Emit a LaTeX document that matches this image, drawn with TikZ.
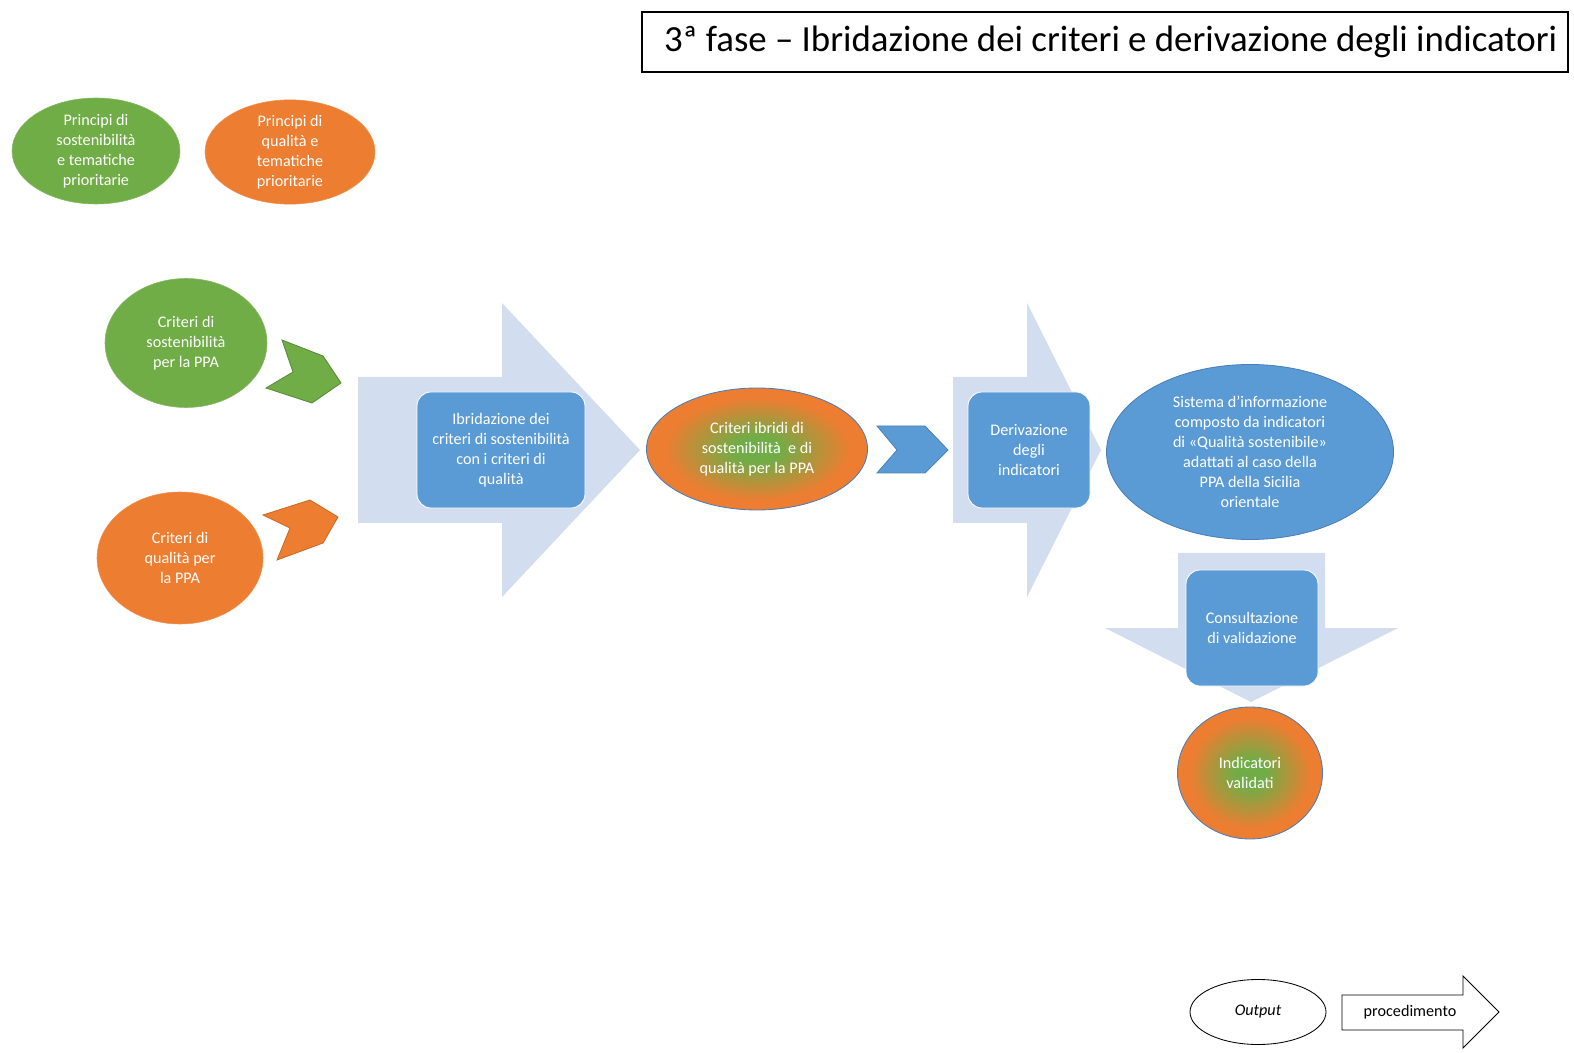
\documentclass[tikz,border=0pt]{standalone}
\usepackage{fontspec}
\setmainfont{Carlito}
\usetikzlibrary{shapes.geometric}
\definecolor{greenfill}{HTML}{70AD47}
\definecolor{orangefill}{HTML}{ED7D31}
\definecolor{bluefill}{HTML}{5B9BD5}
\definecolor{paleblue}{HTML}{D2DDEF}
\definecolor{blueline}{HTML}{4A7EBB}
\pgfdeclareradialshading{hybrid}{\pgfpoint{0bp}{0bp}}{%
  color(0bp)=(greenfill); color(5bp)=(greenfill);
  color(21bp)=(orangefill); color(50bp)=(orangefill)}
\tikzstyle{bubble} = [
  ellipse, inner sep=0pt, align=center, text=white,
  font=\fontsize{11.5}{14.2}\selectfont
]
\tikzstyle{greenbubble} = [bubble, fill=greenfill, draw=greenfill!85!white]
\tikzstyle{orangebubble} = [bubble, fill=orangefill, draw=orangefill!85!white]
\tikzstyle{hybridbubble} = [bubble, shading=hybrid, draw=blueline, line width=0.6pt]
\tikzstyle{stepbox} = [
  rectangle, rounded corners=3.5mm, fill=bluefill, draw=white,
  line width=0.6pt, text=white, align=center, inner sep=0pt,
  minimum height=29mm, font=\fontsize{11.5}{14.2}\selectfont
]
\tikzstyle{flowarrow} = [fill=paleblue]
\tikzstyle{chevron} = [line width=0.6pt, line join=miter]

\begin{document}
\begin{tikzpicture}[x=0.25mm, y=-0.25mm]
  \useasboundingbox (0,0) rectangle (1574,1053);

  % title
  \node[draw=black, line width=0.8pt, fill=white, minimum width=231.5mm,
        minimum height=15mm, inner sep=0pt, font=\fontsize{26.2}{30}\selectfont]
    (title) at (1105,42) {\hspace*{8pt}3ª fase – Ibridazione dei criteri e derivazione degli indicatori};

  % principles
  \node[greenbubble, minimum width=42mm, minimum height=26.5mm]
    (princsost) at (96,151) {Principi di\\sostenibilità\\e tematiche\\prioritarie};
  \node[orangebubble, minimum width=42.5mm, minimum height=26mm]
    (princqual) at (290,152) {Principi di\\qualità e\\tematiche\\prioritarie};

  % criteria
  \node[greenbubble, minimum width=40.5mm, minimum height=32.25mm]
    (critsost) at (186,343) {Criteri di\\sostenibilità\\per la PPA};
  \node[orangebubble, minimum width=41.5mm, minimum height=33mm]
    (critqual) at (180,558) {Criteri di\\qualità per\\la PPA};

  \draw[chevron, fill=greenfill, draw=greenfill!80!black]
    (282,340) -- (323,356) -- (341,383) -- (312,403) -- (266,388) -- (293,372) -- cycle;
  \draw[chevron, fill=orangefill, draw=orangefill!85!black]
    (263,515) -- (310,500) -- (338,517) -- (323,543) -- (277,560) -- (290,528) -- cycle;

  % big arrows
  \fill[flowarrow] (358,377) -- (502,377) -- (502,303) -- (640,450)
    -- (502,597) -- (502,523) -- (358,523) -- cycle;
  \fill[flowarrow] (953,377) -- (1027,377) -- (1027,303) -- (1101,450)
    -- (1027,597) -- (1027,523) -- (953,523) -- cycle;
  \fill[flowarrow] (1178,553) -- (1325,553) -- (1325,628) -- (1398,628)
    -- (1251,702) -- (1105,628) -- (1178,628) -- cycle;

  \node[stepbox, minimum width=42mm] (ibrid) at (501,450)
    {Ibridazione dei\\criteri di sostenibilità\\con i criteri di\\qualità};
  \node[hybridbubble, minimum width=55.25mm, minimum height=30.5mm]
    (critibridi) at (757,449) {Criteri ibridi di\\sostenibilità\ \ e di\\qualità per la PPA};

  \draw[chevron, fill=bluefill, draw=bluefill!85!black]
    (877,426) -- (925,426) -- (948,450) -- (925,473) -- (877,473) -- (897,450) -- cycle;

  \node[stepbox, minimum width=30.5mm] (deriv) at (1029,450)
    {Derivazione\\degli\\indicatori};
  \node[bubble, fill=bluefill, draw=blueline, line width=0.6pt,
        minimum width=71.75mm, minimum height=43.75mm]
    (sistema) at (1250,452) {Sistema d’informazione\\composto da indicatori\\di «Qualità sostenibile»\\adattati al caso della\\PPA della Sicilia\\orientale};

  \node[stepbox, minimum width=33mm] (consult) at (1252,628)
    {Consultazione\\di validazione};
  \node[hybridbubble, minimum width=36.25mm, minimum height=33mm]
    (validati) at (1250,773) {Indicatori\\validati};

  % legend
  \node[ellipse, draw=black, line width=0.6pt, minimum width=34mm, minimum height=16.25mm,
        inner sep=0pt, font=\fontsize{11.5}{14}\selectfont\itshape]
    (legoutput) at (1258,1012) {Output};
  \draw[line width=0.6pt, fill=white] (1342,995) -- (1463,995) -- (1463,976) -- (1499,1012)
    -- (1463,1048) -- (1463,1030) -- (1342,1030) -- cycle;
  \node[font=\fontsize{11.5}{14}\selectfont] (legproc) at (1410,1012) {procedimento};
\end{tikzpicture}
\end{document}
